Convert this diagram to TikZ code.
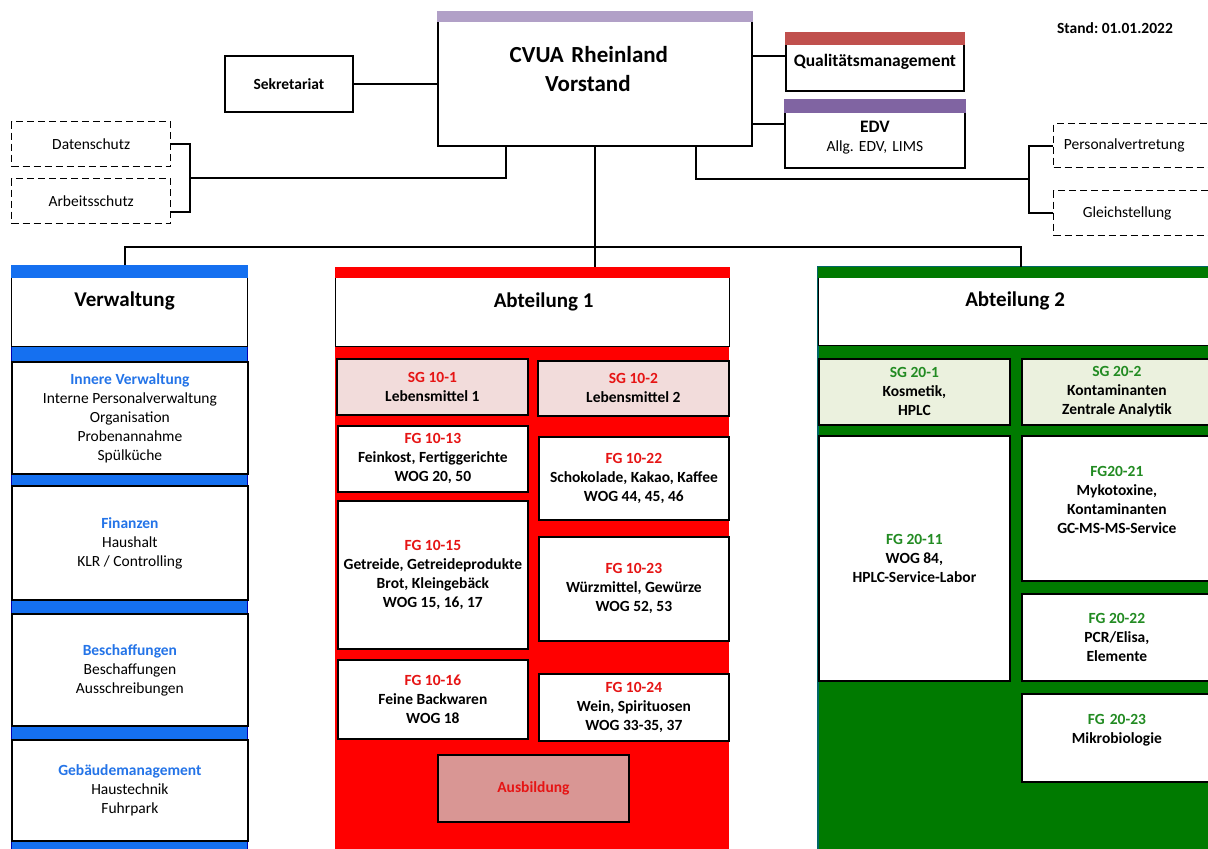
\documentclass[tikz,border=0pt]{standalone}
\usepackage{fontspec}
\setmainfont{Carlito}
\usepackage{tikz}
\usetikzlibrary{positioning}
\frenchspacing

\definecolor{vwblue}{RGB}{21,112,240}
\definecolor{vwtext}{RGB}{36,116,232}
\definecolor{abred}{RGB}{255,0,0}
\definecolor{redtext}{RGB}{230,20,20}
\definecolor{sgpink}{RGB}{242,220,219}
\definecolor{ausbpink}{RGB}{217,150,148}
\definecolor{abgreen}{RGB}{0,122,0}
\definecolor{greentext}{RGB}{34,139,34}
\definecolor{sggreen}{RGB}{235,241,222}
\definecolor{lila}{RGB}{177,160,199}
\definecolor{qmred}{RGB}{192,80,77}
\definecolor{edvlila}{RGB}{128,100,162}

\newcommand{\blautext}[1]{\textcolor{vwtext}{\textbf{#1}}}
\newcommand{\rottext}[1]{\textcolor{redtext}{#1}}
\newcommand{\gruentext}[1]{\textcolor{greentext}{#1}}
\newcommand{\pad}[1]{\rule{#1}{0pt}}

\begin{document}
\begin{tikzpicture}[x=1pt,y=-1pt,
  wh/.style 2 args={minimum width=#1, minimum height=#2},
  box/.style={draw, line width=1.8pt, fill=white, anchor=north west, inner sep=0pt, align=center, font=\fontsize{15.5}{19}\selectfont},
  bbox/.style={box, font=\fontsize{15.5}{19}\selectfont\bfseries},
  dashbox/.style={draw, line width=1.4pt, dash pattern=on 7pt off 4pt, anchor=north west, inner sep=0pt, font=\fontsize{15.5}{19}\selectfont},
  hdr/.style={box, line width=1.2pt, font=\fontsize{21}{25}\selectfont\bfseries, text height=15pt, text depth=15pt},
  link/.style={line width=1.8pt}]
\useasboundingbox (0,0) rectangle (1208,849);

% Spalten
\filldraw[fill=vwblue, draw=blue!70!black, line width=1pt] (11,265) rectangle (247,870);
\fill[abred] (335,267) rectangle (729,870);
\filldraw[fill=abgreen, draw=teal!80!black, line width=1.5pt] (818,267) rectangle (1215,870);

% Leitung
\node[box, wh={314pt}{134pt}, text width=300pt, font=\fontsize{23}{29}\selectfont\bfseries, text height=15pt, text depth=48pt] (cvua) at (437,11) {CVUA Rheinland\pad{12pt}\\Vorstand\pad{14pt}};
\fill[lila] (cvua.north west) rectangle ([yshift=-11pt]cvua.north east);
\node[bbox, wh={128pt}{56pt}] (sek) at (224,55) {Sekretariat};
\node[box, wh={178pt}{58pt}, font=\fontsize{17.5}{21}\selectfont\bfseries] (qm) at (785,32) {Qualitätsmanagement};
\fill[qmred] (qm.north west) rectangle ([yshift=-13pt]qm.north east);
\node[box, wh={180pt}{68pt}, text width=170pt, text height=14pt, text depth=17pt] (edv) at (784,99) {{\fontsize{17.5}{19}\selectfont\bfseries EDV}\\Allg. EDV, LIMS};
\fill[edvlila] (edv.north west) rectangle ([yshift=-14pt]edv.north east);
\node[font=\fontsize{15.5}{19}\selectfont\bfseries] (stand) at (1115,28) {Stand: 01.01.2022};

\node[dashbox, wh={159pt}{45pt}] (ds) at (11,121) {Datenschutz};
\node[dashbox, wh={159pt}{45pt}] (as) at (11,178) {Arbeitsschutz};
\node[dashbox, wh={159pt}{44pt}] (pv) at (1053,123) {Personalvertretung\pad{18pt}};
\node[dashbox, wh={159pt}{45pt}] (gs) at (1053,190) {Gleichstellung\pad{12pt}};

% Verwaltung
\node[hdr, wh={236pt}{81pt}] (vw) at (11,265) {Verwaltung\pad{10pt}};
\fill[vwblue] (vw.north west) rectangle ([yshift=-13pt]vw.north east);
\node[box, wh={236pt}{112pt}] (iv) at (11,361) {\blautext{Innere Verwaltung}\\Interne Personalverwaltung\\Organisation\\Probenannahme\\Spülküche};
\node[box, wh={236pt}{114pt}] (fin) at (11,485) {\blautext{Finanzen}\\Haushalt\\KLR / Controlling};
\node[box, wh={236pt}{112pt}] (bes) at (11,613) {\blautext{Beschaffungen}\\Beschaffungen\\Ausschreibungen};
\node[box, wh={236pt}{101pt}] (geb) at (11,739) {\blautext{Gebäudemanagement}\\Haustechnik\\Fuhrpark};

% Abteilung 1
\node[hdr, wh={394pt}{79pt}] (ab1) at (335,267) {\pad{22pt}Abteilung 1};
\fill[abred] (ab1.north west) rectangle ([yshift=-11pt]ab1.north east);
\node[bbox, fill=sgpink, wh={191pt}{56pt}] (sg101) at (336,358) {\rottext{SG 10-1}\\Lebensmittel 1};
\node[bbox, fill=sgpink, wh={191pt}{55pt}] (sg102) at (537,360) {\rottext{SG 10-2}\\Lebensmittel 2};
\node[bbox, wh={190pt}{66pt}] (fg1013) at (337,425) {\rottext{FG 10-13}\\Feinkost, Fertiggerichte\\WOG 20, 50};
\node[bbox, wh={190pt}{83pt}] (fg1022) at (538,436) {\rottext{FG 10-22}\\Schokolade, Kakao, Kaffee\\WOG 44, 45, 46};
\node[bbox, wh={190pt}{148pt}] (fg1015) at (337,500) {\rottext{FG 10-15}\\Getreide, Getreideprodukte\\Brot, Kleingebäck\\WOG 15, 16, 17};
\node[bbox, wh={190pt}{104pt}] (fg1023) at (538,536) {\rottext{FG 10-23}\\Würzmittel, Gewürze\\WOG 52, 53};
\node[bbox, wh={190pt}{79pt}] (fg1016) at (337,659) {\rottext{FG 10-16}\\Feine Backwaren\\WOG 18};
\node[bbox, wh={190pt}{67pt}] (fg1024) at (538,673) {\rottext{FG 10-24}\\Wein, Spirituosen\\WOG 33-35, 37};
\node[bbox, fill=ausbpink, wh={191pt}{67pt}] (ausb) at (437,754) {\rottext{Ausbildung}};

% Abteilung 2
\node[hdr, wh={393pt}{78pt}] (ab2) at (818,267) {Abteilung 2};
\fill[abgreen] (ab2.north west) rectangle ([yshift=-11pt]ab2.north east);
\node[bbox, fill=sggreen, wh={191pt}{66pt}] (sg201) at (818,358) {\gruentext{SG 20-1}\\Kosmetik,\\HPLC};
\node[bbox, fill=sggreen, wh={190pt}{66pt}] (sg202) at (1021,358) {\gruentext{SG 20-2}\\Kontaminanten\\Zentrale Analytik};
\node[bbox, wh={191pt}{245pt}] (fg2011) at (818,435) {\gruentext{FG 20-11}\\WOG 84,\\HPLC-Service-Labor};
\node[bbox, wh={190pt}{145pt}, text width=180pt, text height=10.5pt, text depth=75pt] (fg2021) at (1021,435) {\gruentext{FG20-21}\\Mykotoxine,\\Kontaminanten\\GC-MS-MS-Service};
\node[bbox, wh={190pt}{87pt}] (fg2022) at (1021,593) {\gruentext{FG 20-22}\\PCR/Elisa,\\Elemente};
\node[bbox, wh={190pt}{88pt}, text width=180pt, text height=10.5pt, text depth=37pt] (fg2023) at (1021,693) {\gruentext{FG 20-23}\\Mikrobiologie};

% Verbindungen
\coordinate (bus) at ([yshift=-100pt]cvua.south);
\coordinate (lbr) at (190,178);
\coordinate (rbr) at (1029,179);
\draw[link] (sek.east) -- (sek.east -| cvua.west);
\draw[link] ([yshift=6pt]qm.west) -- ([yshift=6pt]qm.west -| cvua.east);
\draw[link] ([yshift=10pt]edv.west) -- ([yshift=10pt]edv.west -| cvua.east);
\draw[link] ([xshift=-89pt]cvua.south) |- (lbr);
\draw[link] (ds.east) -| (lbr) |- ([yshift=-11pt]as.east);
\draw[link] ([xshift=101pt]cvua.south) |- (rbr);
\draw[link] (pv.west) -| (rbr) |- (gs.west);
\draw[link] (cvua.south) -- (bus);
\draw[link] ([xshift=-5pt]vw.north) |- (bus) -| ([xshift=6pt]ab2.north);
\draw[link] (bus) -- (bus |- ab1.north);
\end{tikzpicture}
\end{document}
